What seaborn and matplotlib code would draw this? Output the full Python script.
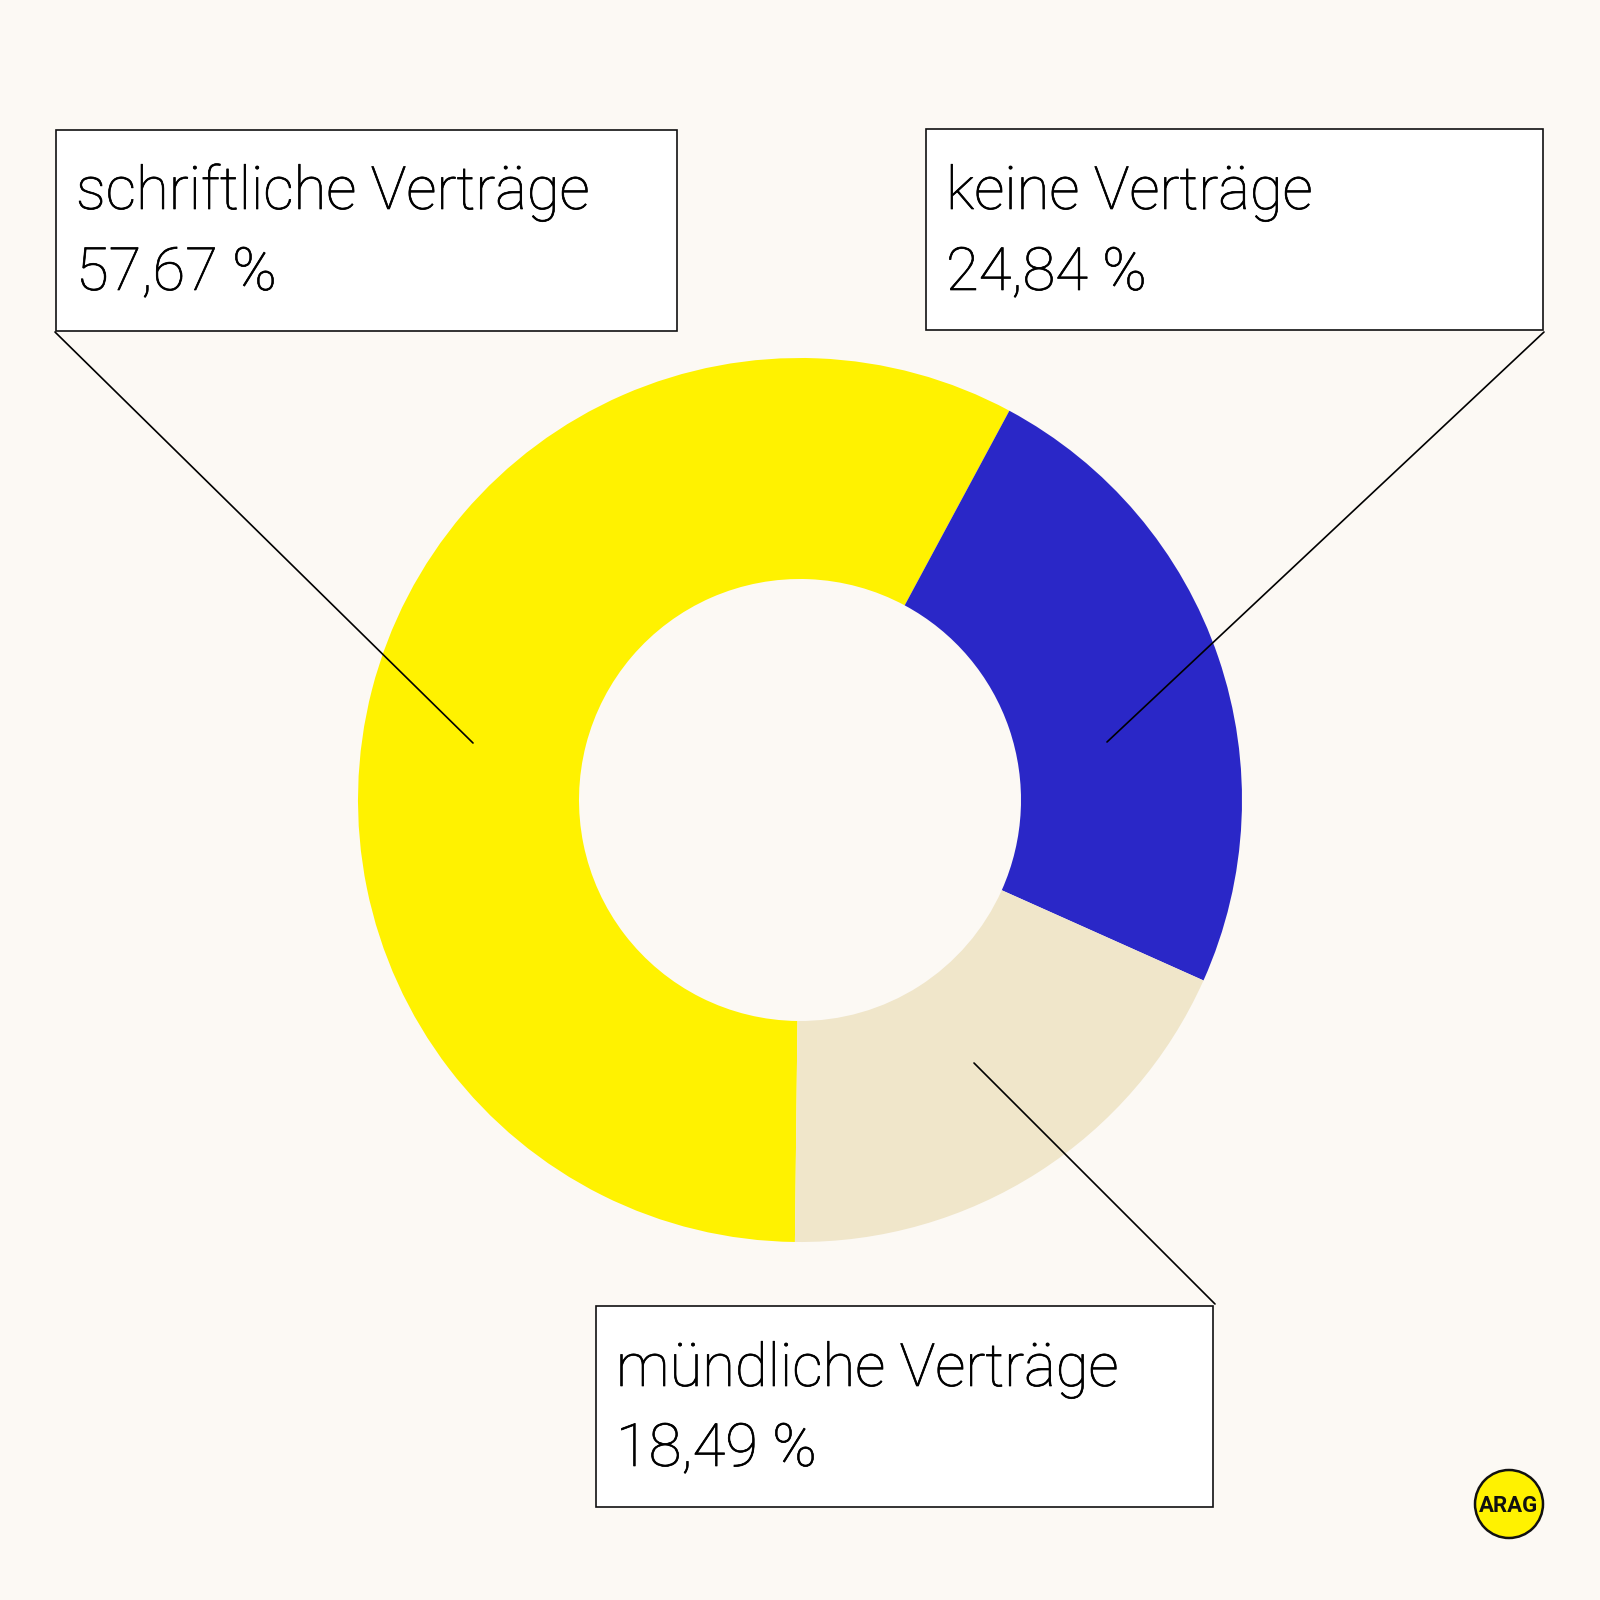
import matplotlib.pyplot as plt
import matplotlib.patheffects as pe
from matplotlib.patches import Circle, Rectangle
import seaborn as sns

# shares as drawn in the ring (the printed label for the blue slice says 24,84)
categories = ["schriftliche Verträge", "keine Verträge", "mündliche Verträge"]
ring_shares = [57.67, 23.84, 18.49]
value_labels = ["57,67 %", "24,84 %", "18,49 %"]

BG = "#FCF9F4"
ring_colors = sns.color_palette(["#FFF200", "#2A27C7", "#F0E6CA"])

sns.set_theme(style="white", rc={"figure.facecolor": BG, "axes.facecolor": BG})
plt.rcParams["font.family"] = ["Roboto", "DejaVu Sans"]

W = 1600
fig = plt.figure(figsize=(8, 8), dpi=200)
ax = fig.add_axes([0, 0, 1, 1])


def flip(y):
    # layout below is noted in pixels from the top
    return W - y


ax.pie(
    ring_shares,
    colors=ring_colors,
    startangle=-90.66,
    counterclock=False,
    center=(800, flip(800)),
    radius=442,
    wedgeprops={"width": 221, "linewidth": 0},
)
ax.set_aspect("equal")
ax.set_xlim(0, W)
ax.set_ylim(0, W)
ax.axis("off")

# box: left, right, top, bottom, text x, baseline 1, baseline 2
boxes = [
    (55.5, 677, 130, 331, 76, 209, 290),
    (925.5, 1543, 129, 330, 946, 209, 290),
    (596, 1213, 1306, 1507, 616, 1386, 1466),
]
leaders = [
    ((55, 332), (473, 743)),
    ((1544, 332), (1107, 742)),
    ((1215, 1304), (974, 1063)),
]
# Roboto Light is a touch thinner than the reference lettering
thicken = [pe.withStroke(linewidth=0.25, foreground="black")]

for i, (x0, x1, top, bottom, tx, b1, b2) in enumerate(boxes):
    ax.add_patch(Rectangle((x0, flip(bottom)), x1 - x0, bottom - top,
                           facecolor="white", edgecolor="#111111", linewidth=0.6, zorder=3))
    ax.text(tx, flip(b1), categories[i], fontsize=21.5, fontweight="light", color="black",
            va="baseline", ha="left", zorder=4, path_effects=thicken)
    ax.text(tx, flip(b2), value_labels[i], fontsize=21.5, fontweight="light", color="black",
            va="baseline", ha="left", zorder=4, path_effects=thicken)

for (xa, ya), (xb, yb) in leaders:
    ax.plot([xa, xb], [flip(ya), flip(yb)], color="black", linewidth=0.6, zorder=5)

# logo
ax.add_patch(Circle((1509, flip(1504)), 34, facecolor="#FFF200", edgecolor="#111111",
                    linewidth=0.9, zorder=3))
ax.text(1509, flip(1504), "ARAG", fontsize=8, fontweight="bold", color="#111111",
        ha="center", va="center_baseline", zorder=4)

fig.savefig("out.png", dpi=200, facecolor=BG)
